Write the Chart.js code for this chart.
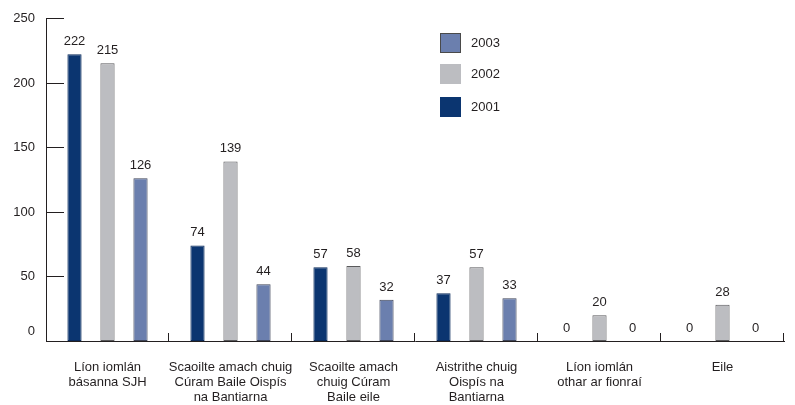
<!DOCTYPE html>
<html>
<head>
<meta charset="utf-8">
<script src="https://cdn.jsdelivr.net/npm/chart.js@4/dist/chart.umd.min.js"></script>
<style>
    html, body { margin: 0; padding: 0; background: #fff; }
    #wrap { width: 795px; height: 405px; }
</style>
</head>
<body>
<div id="wrap"><canvas id="deathsChart" width="795" height="405"></canvas></div>
<script>
const categories = [
    ["Líon iomlán", "básanna SJH"],
    ["Scaoilte amach chuig", "Cúram Baile Oispís", "na Bantiarna"],
    ["Scaoilte amach", "chuig Cúram", "Baile eile"],
    ["Aistrithe chuig", "Oispís na", "Bantiarna"],
    ["Líon iomlán", "othar ar fionraí"],
    ["Eile"],
];
const values2001 = [222, 74, 57, 37, 0, 0];
const values2002 = [215, 139, 58, 57, 20, 28];
const values2003 = [126, 44, 32, 33, 0, 0];
const yTicks = [0, 50, 100, 150, 200, 250];

const fontFamily = "'Liberation Sans', Arial, Helvetica, sans-serif";
const textColor = "#231f20";
const axisColor = "#231f20";

// axis marks, value labels and the legend are drawn on top of the chart
const decorations = {
    id: "decorations",
    afterDraw(chart) {
        const ctx = chart.ctx;
        const xScale = chart.scales.x;
        const yScale = chart.scales.y;
        const area = chart.chartArea;
        ctx.save();

        // y ticks pointing inwards + labels
        ctx.strokeStyle = axisColor;
        ctx.lineWidth = 1;
        ctx.font = `13px ${fontFamily}`;
        ctx.fillStyle = textColor;
        ctx.textAlign = "right";
        ctx.textBaseline = "middle";
        yTicks.forEach((v) => {
            const y = Math.round(yScale.getPixelForValue(v)) + 0.5;
            ctx.beginPath();
            ctx.moveTo(area.left, y);
            ctx.lineTo(area.left + 18, y);
            ctx.stroke();
            ctx.fillText(String(v), area.left - 11, y - (v === 0 ? 10 : 0));
        });

        // small upward ticks between categories
        const half = (xScale.getPixelForValue(1) - xScale.getPixelForValue(0)) / 2;
        categories.forEach((c, i) => {
            const x = Math.round(xScale.getPixelForValue(i) + half) - 0.5;
            ctx.beginPath();
            ctx.moveTo(x, area.bottom);
            ctx.lineTo(x, area.bottom - 8);
            ctx.stroke();
        });

        // value labels
        ctx.textAlign = "center";
        ctx.textBaseline = "bottom";
        chart.data.datasets.forEach((ds, di) => {
            const meta = chart.getDatasetMeta(di);
            meta.data.forEach((bar, i) => {
                ctx.fillText(String(ds.data[i]), bar.x, bar.y - 6);
            });
        });

        // legend, newest year first
        const order = [2, 1, 0];
        const legendTops = [33, 64, 97];
        ctx.textAlign = "left";
        ctx.textBaseline = "middle";
        order.forEach((di, k) => {
            const ds = chart.data.datasets[di];
            const top = legendTops[k];
            ctx.fillStyle = ds.backgroundColor;
            ctx.fillRect(440, top, 21, 20);
            if (di === 2) {
                ctx.strokeStyle = "#4a4a4a";
                ctx.strokeRect(440.5, top + 0.5, 20, 19);
            }
            ctx.fillStyle = textColor;
            ctx.fillText(ds.label, 471, top + 10);
        });

        ctx.restore();
    },
};

new Chart(document.getElementById("deathsChart"), {
    type: "bar",
    data: {
        labels: categories,
        datasets: [
            {
                label: "2001",
                data: values2001,
                backgroundColor: "#0b3570",
                borderColor: "#0a2a5a",
                borderWidth: 1,
                borderSkipped: false,
            },
            {
                label: "2002",
                data: values2002,
                backgroundColor: "#bcbdc1",
                borderColor: "#5a5a5c",
                borderWidth: 1,
                borderSkipped: false,
            },
            {
                label: "2003",
                data: values2003,
                backgroundColor: "#6b7fae",
                borderColor: "#3e4458",
                borderWidth: 1,
                borderSkipped: false,
            },
        ],
    },
    options: {
        responsive: false,
        animation: false,
        categoryPercentage: 0.805,
        barPercentage: 0.43,
        layout: {
            padding: { top: 18, right: 11, left: 0, bottom: 0 },
        },
        plugins: {
            legend: { display: false },
            tooltip: { enabled: false },
        },
        scales: {
            x: {
                grid: { display: false, drawTicks: false },
                border: { display: true, color: axisColor, width: 1 },
                ticks: {
                    color: textColor,
                    font: { family: fontFamily, size: 13, lineHeight: 1.15 },
                    padding: 19,
                    maxRotation: 0,
                    autoSkip: false,
                },
                afterFit(scale) {
                    scale.height = 64;
                },
            },
            y: {
                min: 0,
                max: 250,
                grid: { display: false, drawTicks: false },
                border: { display: true, color: axisColor, width: 1 },
                ticks: { display: false, stepSize: 50 },
                afterFit(scale) {
                    scale.width = 46;
                },
            },
        },
    },
    plugins: [decorations],
});
</script>
</body>
</html>
